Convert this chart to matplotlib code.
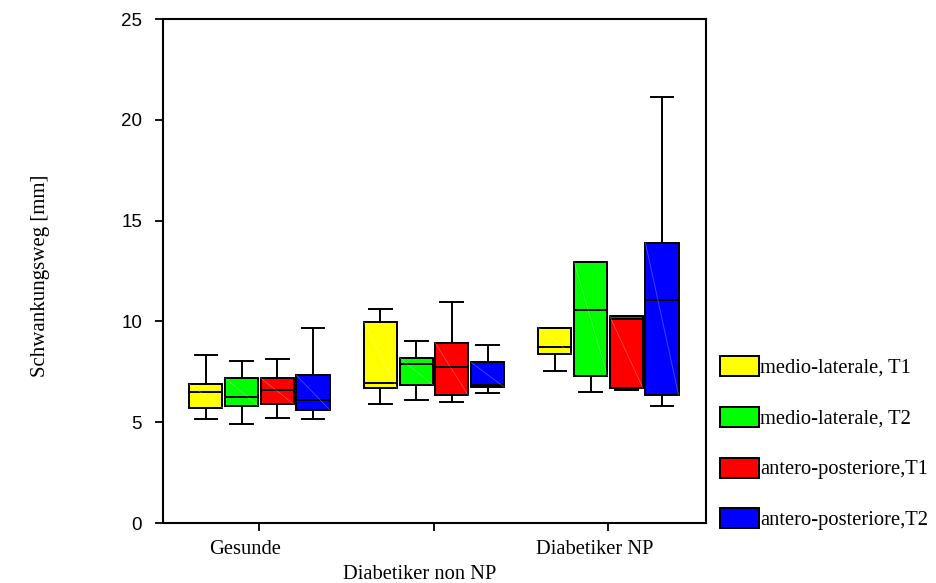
import matplotlib
matplotlib.use('Agg')
import matplotlib.pyplot as plt
from matplotlib.patches import Patch
from matplotlib.transforms import ScaledTranslation
import numpy as np

# Gruppen und Serien
groups = ['Gesunde', 'Diabetiker non NP', 'Diabetiker NP']
series = ['medio-laterale, T1', 'medio-laterale, T2', 'antero-posteriore,T1', 'antero-posteriore,T2']
colors = ['#ffff00', '#00ff00', '#ff0000', '#0000ff']

# Boxplot-Kennwerte je Serie, Werte fuer (Gesunde, non NP, NP)
whislo = [[5.14, 5.90, 7.56],
          [4.89, 6.10, 6.51],
          [5.21, 6.00, 6.61],
          [5.14, 6.43, 5.82]]
q1 = [[5.72, 6.68, 8.38],
      [5.82, 6.85, 7.31],
      [5.89, 6.33, 6.70],
      [5.62, 6.75, 6.35]]
med = [[6.51, 6.96, 8.75],
       [6.27, 7.87, 10.55],
       [6.60, 7.72, 10.13],
       [6.10, 6.85, 11.06]]
q3 = [[6.88, 9.97, 9.69],
      [7.19, 8.20, 12.95],
      [7.19, 8.93, 10.27],
      [7.32, 7.97, 13.89]]
whishi = [[8.33, 10.61, 9.69],
          [8.05, 9.01, 12.95],
          [8.15, 10.96, 10.27],
          [9.66, 8.83, 21.12]]

fig = plt.figure(figsize=(9.36, 5.83), dpi=100)
ax = fig.add_axes([163 / 936, 60 / 583, 543 / 936, 504 / 583])

offsets = [-0.307, -0.102, 0.102, 0.307]
width = 0.19
lw = 1.4
serif = 'Liberation Serif'

for s in range(len(series)):
    stats = []
    for g in range(len(groups)):
        stats.append(dict(med=med[s][g], q1=q1[s][g], q3=q3[s][g],
                          whislo=whislo[s][g], whishi=whishi[s][g], fliers=[]))
    pos = np.arange(1, len(groups) + 1) + offsets[s]
    ax.bxp(stats, positions=pos, widths=width, capwidths=0.13, patch_artist=True,
           showfliers=False, manage_ticks=False,
           boxprops=dict(facecolor=colors[s], edgecolor='black', linewidth=lw),
           medianprops=dict(color='black', linewidth=lw),
           whiskerprops=dict(color='black', linewidth=lw),
           capprops=dict(color='black', linewidth=lw))
    # feine Diagonale (Verlaufsartefakt)
    for g in range(len(groups)):
        ax.plot([pos[g] - width / 2, pos[g] + width / 2], [q3[s][g], q1[s][g]],
                color='white', alpha=0.3, linewidth=0.6, zorder=2.5)

ax.set_xlim(0.447, 3.559)
ax.set_ylim(0, 25)
ax.set_yticks([0, 5, 10, 15, 20, 25])
ax.tick_params(axis='y', direction='out', length=6, width=1.3, labelsize=13.5, pad=9)
ax.tick_params(axis='x', direction='out', length=6, width=1.3, pad=6)
for lab in ax.get_yticklabels():
    lab.set_fontfamily('Liberation Sans')

ax.set_xticks([1, 2, 3])
ax.set_xticklabels(['Gesunde', '\nDiabetiker non NP', 'Diabetiker NP'],
                   fontfamily=serif, fontsize=14.8)
shift = ScaledTranslation(-14 / 100, 0, fig.dpi_scale_trans)
for lab in ax.get_xticklabels():
    lab.set_linespacing(1.45)
    lab.set_transform(lab.get_transform() + shift)

for sp in ax.spines.values():
    sp.set_linewidth(1.5)

fig.text(41 / 936, 1 - 276 / 583, 'Schwankungsweg [mm]', rotation=90,
         fontfamily=serif, fontsize=15, ha='center', va='center')

handles = [Patch(facecolor=c, edgecolor='black', linewidth=lw) for c in colors]
fig.legend(handles, series, loc='upper left', bbox_to_anchor=(720 / 936, 1 - 356 / 583),
           bbox_transform=fig.transFigure, frameon=False, borderpad=0, borderaxespad=0,
           handlelength=1.9, handleheight=1.12, handletextpad=0.05, labelspacing=1.4,
           prop=dict(family=serif, size=14.8))

fig.savefig('out.png', dpi=100)
